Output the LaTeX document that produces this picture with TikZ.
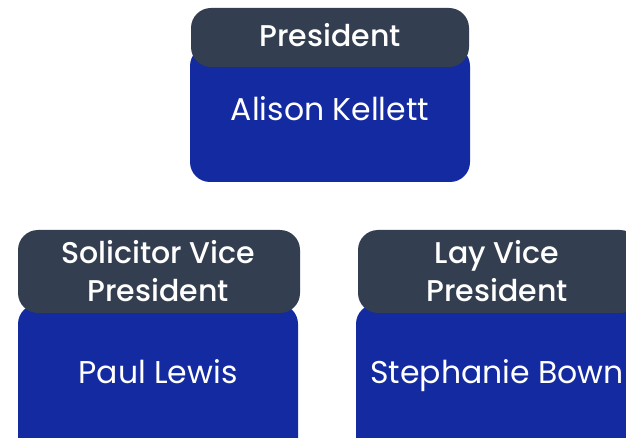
\documentclass[tikz,border=0pt]{standalone}
\usepackage{fontspec}
\setmainfont{Poppins}
\newfontfamily\rolefont{Poppins Medium}
\begin{document}
\begin{tikzpicture}[x=1pt,y=-1pt,
  bodybox/.style={fill=bodyblue, rounded corners=20pt},
  headbox/.style={fill=headslate, rounded corners=20pt},
  roletext/.style={text=white, font=\fontsize{30}{38}\selectfont\rolefont, align=center},
  persontext/.style={text=white, font=\fontsize{31.5}{36}\selectfont, anchor=base}]
\definecolor{bodyblue}{HTML}{132AA0}
\definecolor{headslate}{HTML}{333F50}
\useasboundingbox (0,0) rectangle (626,438);
\fill[white] (0,0) rectangle (626,438);
% President
\path[bodybox] (190,46) rectangle (470,182);
\path[headbox] (191,8) rectangle (469,67);
\node[roletext] (ptitle) at (330,35) {President};
\node[persontext] (pname) at (330,121) {Alison Kellett};
% Solicitor Vice President
\path[bodybox] (18,304) rectangle (298,470);
\path[headbox] (18,230) rectangle (300,313);
\node[roletext] (stitle) at (158,271) {Solicitor Vice\\President};
\node[persontext] (sname) at (158,383) {Paul Lewis};
% Lay Vice President
\path[bodybox] (356,304) rectangle (637,470);
\path[headbox] (358,230) rectangle (640,313);
\node[roletext] (ltitle) at (497,271) {Lay Vice\\President};
\node[persontext] (lname) at (497,383) {Stephanie Bown};
\end{tikzpicture}
\end{document}
